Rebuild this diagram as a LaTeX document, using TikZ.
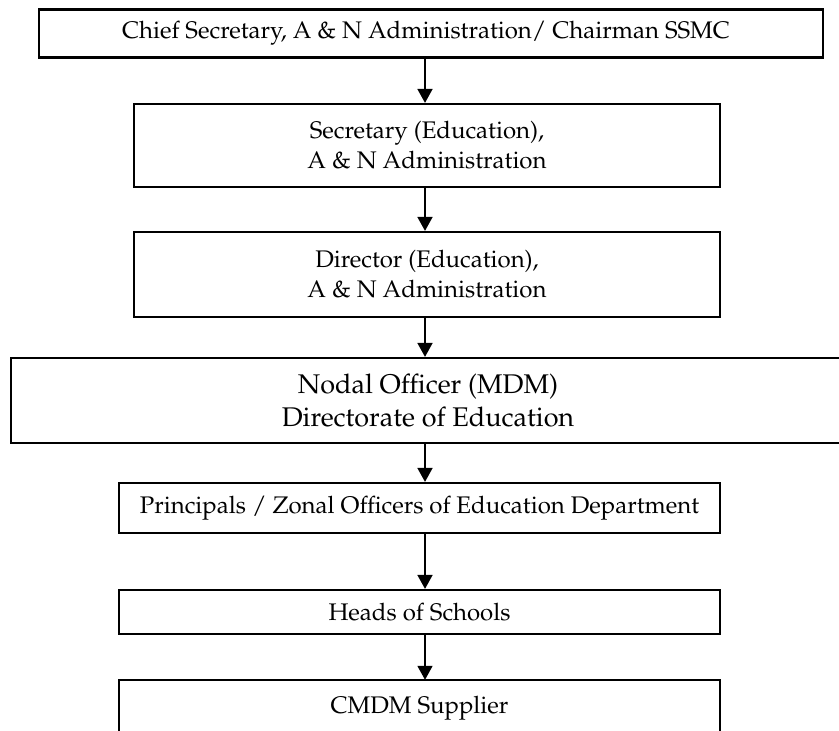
\documentclass[tikz,border=0pt]{standalone}
\usepackage[T1]{fontenc}
\usepackage{mathpazo}
\usetikzlibrary{arrows.meta}
\tikzset{
  box/.style={draw=black, line width=2.2pt, inner sep=0pt, align=center, fill=white},
  openbox/.style={inner sep=0pt, align=center},
  arr/.style={line width=1.8pt, -{Triangle[width=15pt,length=14pt]}},
  txt/.style={font=\fontsize{24}{30}\selectfont},
  big/.style={font=\fontsize{27}{33}\selectfont},
}
\begin{document}
\begin{tikzpicture}[x=1pt,y=-1pt]
\useasboundingbox (0,0) rectangle (839,731);
\coordinate (ax) at (425,0);
\node[box, minimum width=784pt, minimum height=48pt] (b1) at (431,33.5) {};
\node[txt] (b1t) at (426,33.5) {Chief Secretary, A \& N Administration/ Chairman SSMC};
\node[box, txt, minimum width=586pt, minimum height=83pt] (b2) at (427,145.5) {Secretary (Education),\\A \& N Administration};
\node[box, txt, minimum width=586pt, minimum height=85pt] (b3) at (427,274.5) {Director (Education),\\A \& N Administration};
\node[box, big, minimum width=834pt, minimum height=85pt] (b4) at (428,400.5) {Nodal Officer (MDM)\\Directorate of Education};
\node[box, txt, minimum width=601pt, minimum height=50pt] (b5) at (419.5,508) {Principals / Zonal Officers of Education Department};
\node[box, txt, minimum width=601pt, minimum height=44pt] (b6) at (419.5,612) {Heads of Schools};
\node[openbox, minimum width=601pt, minimum height=60pt] (b7) at (419.5,710) {};
\node[txt] (b7t) at (419.5,708) {CMDM Supplier};
\draw[line width=2.2pt] (b7.south west) -- (b7.north west) -- (b7.north east) -- (b7.south east);
\draw[arr] (b1.south -| ax) -- (b2.north -| ax);
\draw[arr] (b2.south -| ax) -- (b3.north -| ax);
\draw[arr] (b3.south -| ax) -- (b4.north -| ax);
\draw[arr] (b4.south -| ax) -- (b5.north -| ax);
\draw[arr] (b5.south -| ax) -- (b6.north -| ax);
\draw[arr] (b6.south -| ax) -- (b7.north -| ax);
\end{tikzpicture}
\end{document}
